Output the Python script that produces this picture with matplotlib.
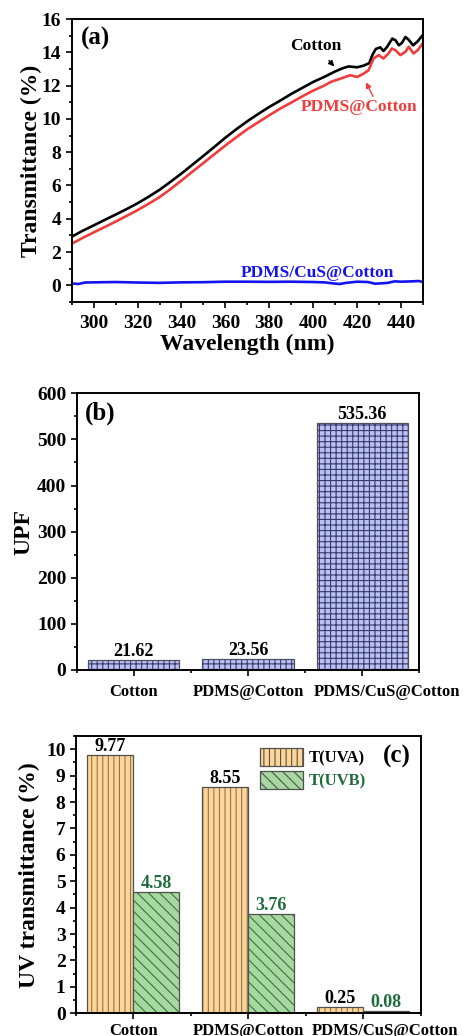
import numpy as np
import matplotlib
matplotlib.use("Agg")
import matplotlib.pyplot as plt
import matplotlib.transforms as mtransforms
from matplotlib.ticker import MultipleLocator
from matplotlib.patches import Patch

plt.rcParams['font.family'] = ['Liberation Serif', 'DejaVu Serif']
plt.rcParams['font.weight'] = 'bold'
plt.rcParams['axes.linewidth'] = 1.4
plt.rcParams['hatch.linewidth'] = 0.8

# (a) transmittance spectra
wl_cotton = [290, 295, 300, 305, 310, 315, 320, 325, 330, 335, 340, 345, 350, 355,
             360, 365, 370, 375, 380, 385, 390, 395, 400, 405, 410, 413, 416, 420,
             423, 425.5, 427, 428.5, 430.5, 432, 433.5, 436, 437.5, 439, 440.5,
             442, 443.5, 445.5, 447.5, 450]
t_cotton = [2.92, 3.28, 3.6, 3.93, 4.25, 4.58, 4.93, 5.32, 5.74, 6.22, 6.72, 7.25, 7.78,
            8.32, 8.87, 9.38, 9.86, 10.3, 10.72, 11.1, 11.5, 11.86, 12.22, 12.52,
            12.85, 13.02, 13.15, 13.1, 13.2, 13.35, 13.85, 14.2, 14.3, 14.08, 14.3,
            14.82, 14.72, 14.42, 14.58, 14.92, 14.75, 14.42, 14.65, 15.05]

wl_pdms = [290, 295, 300, 305, 310, 315, 320, 325, 330, 335, 340, 345, 350, 355,
           360, 365, 370, 375, 380, 385, 390, 395, 400, 405, 408, 412, 416.8, 420,
           423, 425.2, 427.5, 429.8, 432, 434.3, 435.8, 437.4, 439.7, 442, 443.5,
           445.7, 447.6, 450]
t_pdms = [2.5, 2.85, 3.18, 3.5, 3.83, 4.17, 4.52, 4.9, 5.3, 5.78, 6.3, 6.83, 7.35,
          7.88, 8.4, 8.9, 9.38, 9.8, 10.22, 10.62, 10.98, 11.35, 11.7, 12.0, 12.22,
          12.4, 12.62, 12.52, 12.72, 12.92, 13.63, 13.83, 13.63, 13.93, 14.23,
          14.13, 13.83, 14.03, 14.33, 13.93, 14.13, 14.55]

wl_cus = [290, 293, 296, 300, 310, 320, 330, 340, 350, 360, 370, 380, 390, 400, 405,
          409, 412, 415, 420, 425, 428, 431, 434, 437, 440, 445, 448, 450]
t_cus = [0.12, 0.08, 0.17, 0.18, 0.2, 0.17, 0.15, 0.18, 0.19, 0.22, 0.22, 0.21, 0.22,
         0.2, 0.18, 0.12, 0.08, 0.15, 0.22, 0.2, 0.1, 0.12, 0.15, 0.24, 0.22, 0.24,
         0.26, 0.2]

# (b) UPF
samples = ['Cotton', 'PDMS@Cotton', 'PDMS/CuS@Cotton']
upf = [21.62, 23.56, 535.36]

# (c) UVA / UVB transmittance
t_uva = [9.77, 8.55, 0.25]
t_uvb = [4.58, 3.76, 0.08]

W, H = 465, 1036
fig = plt.figure(figsize=(W / 100, H / 100), dpi=100)


def box(l, t, r, b):
    return [l / W, 1 - b / H, (r - l) / W, (b - t) / H]


def style(ax):
    ax.tick_params(which='both', direction='out', top=False, right=False,
                   labelsize=14, width=1.2)
    ax.tick_params(which='major', length=4)
    ax.tick_params(which='minor', length=2.5)
    for lab in ax.get_xticklabels() + ax.get_yticklabels():
        lab.set_fontweight('bold')


def nudge_last_label(ax, dx_px):
    # long last category name sits shifted to the right
    off = mtransforms.ScaledTranslation(dx_px / 100, 0, fig.dpi_scale_trans)
    lab = ax.get_xticklabels()[-1]
    lab.set_transform(lab.get_transform() + off)


# ---- (a)
ax1 = fig.add_axes(box(71.7, 19, 423, 302))
ax1.plot(wl_cotton, t_cotton, color='black', lw=1.9)
ax1.plot(wl_pdms, t_pdms, color='#f03c3c', lw=1.9)
ax1.plot(wl_cus, t_cus, color='#1414f0', lw=1.9)
ax1.set_xlim(290, 450)
ax1.set_ylim(-1, 16)
ax1.xaxis.set_major_locator(MultipleLocator(20))
ax1.xaxis.set_minor_locator(MultipleLocator(10))
ax1.yaxis.set_major_locator(MultipleLocator(2))
ax1.yaxis.set_minor_locator(MultipleLocator(1))
style(ax1)
ax1.tick_params(axis='x', pad=5)
ax1.set_xlabel('Wavelength (nm)', fontsize=17, fontweight='bold', labelpad=2)
ax1.set_ylabel('Transmittance (%)', fontsize=17, fontweight='bold', labelpad=0)
ax1.text(0.025, 0.93, '(a)', transform=ax1.transAxes, fontsize=18,
         fontweight='bold', va='center')
ax1.annotate('Cotton', xy=(409.6, 13.15), xytext=(401, 14.4), fontsize=12.5,
             fontweight='bold', ha='center', va='center',
             arrowprops=dict(arrowstyle='-|>', color='black', lw=1,
                             mutation_scale=8, shrinkA=4, shrinkB=0))
ax1.annotate('PDMS@Cotton', xy=(424, 12.2), xytext=(421, 10.7), fontsize=12.5,
             fontweight='bold', color='#f03c3c', ha='center', va='center',
             arrowprops=dict(arrowstyle='-|>', color='#f03c3c', lw=1,
                             mutation_scale=8, shrinkA=0, shrinkB=0,
                             relpos=(0.63, 1.0)))
ax1.text(402, 0.74, 'PDMS/CuS@Cotton', fontsize=12.5, fontweight='bold',
         color='#1414f0', ha='center', va='center')

x = np.arange(len(samples))

# ---- (b)
ax2 = fig.add_axes(box(76.7, 393.3, 419.3, 670))
ax2.bar(x, upf, width=0.8, color='#b8c0f6', edgecolor='#3a3a66', lw=0,
        hatch='+++')
bars = ax2.bar(x, upf, width=0.8, facecolor='none', edgecolor='#505060', lw=0.9)
ax2.bar_label(bars, fmt='%.2f', fontsize=13, fontweight='bold', padding=0)
ax2.set_xlim(-0.5, 2.5)
ax2.set_ylim(0, 600)
ax2.set_xticks(x)
ax2.set_xticklabels(samples, fontsize=12, fontweight='bold')
ax2.xaxis.set_minor_locator(MultipleLocator(0.5))
ax2.yaxis.set_major_locator(MultipleLocator(100))
ax2.yaxis.set_minor_locator(MultipleLocator(50))
style(ax2)
ax2.tick_params(axis='x', labelsize=12, pad=6)
nudge_last_label(ax2, 25)
ax2.set_ylabel('UPF', fontsize=17, fontweight='bold', labelpad=2)
ax2.text(0.025, 0.928, '(b)', transform=ax2.transAxes, fontsize=18,
         fontweight='bold', va='center')

# ---- (c)
ax3 = fig.add_axes(box(76, 736, 420.7, 1013.3))
bw = 0.4
uva_face, uva_hatch = '#ffd596', '#8a7658'
uvb_face, uvb_hatch = '#a6d9a0', '#3e703e'
uvb_text = '#1e6b3c'
ax3.bar(x - bw / 2, t_uva, width=bw, color=uva_face, edgecolor=uva_hatch, lw=0,
        hatch='|||')
b_uva = ax3.bar(x - bw / 2, t_uva, width=bw, facecolor='none',
                edgecolor='#505050', lw=0.9)
ax3.bar(x + bw / 2, t_uvb, width=bw, color=uvb_face, edgecolor=uvb_hatch, lw=0,
        hatch='\\\\\\')
b_uvb = ax3.bar(x + bw / 2, t_uvb, width=bw, facecolor='none',
                edgecolor='#505050', lw=0.9)
ax3.bar_label(b_uva, fmt='%.2f', fontsize=13, fontweight='bold', padding=0)
ax3.bar_label(b_uvb, fmt='%.2f', fontsize=13, fontweight='bold', padding=0,
              color=uvb_text)
ax3.set_xlim(-0.5, 2.5)
ax3.set_ylim(0, 10.5)
ax3.set_xticks(x)
ax3.set_xticklabels(samples, fontsize=12, fontweight='bold')
ax3.xaxis.set_minor_locator(MultipleLocator(0.5))
ax3.yaxis.set_major_locator(MultipleLocator(1))
ax3.yaxis.set_minor_locator(MultipleLocator(0.5))
style(ax3)
ax3.tick_params(axis='x', labelsize=12, pad=3)
nudge_last_label(ax3, 22)
ax3.set_ylabel('UV transmittance (%)', fontsize=17, fontweight='bold', labelpad=4)
ax3.text(0.93, 0.925, '(c)', transform=ax3.transAxes, fontsize=18,
         fontweight='bold', va='center', ha='center')
handles = [Patch(facecolor=uva_face, edgecolor='#505050', hatch='|||', lw=0.9),
           Patch(facecolor=uvb_face, edgecolor='#505050', hatch='\\\\\\', lw=0.9)]
leg = ax3.legend(handles, ['T(UVA)', 'T(UVB)'], loc='upper left',
                 bbox_to_anchor=(0.5, 1.0), frameon=False, fontsize=12,
                 handlelength=2.6, handleheight=1.3, handletextpad=0.3,
                 labelspacing=0.25, borderaxespad=0.3)
for t in leg.get_texts():
    t.set_fontweight('bold')
leg.get_texts()[1].set_color(uvb_text)

fig.savefig('out.png', dpi=100)
